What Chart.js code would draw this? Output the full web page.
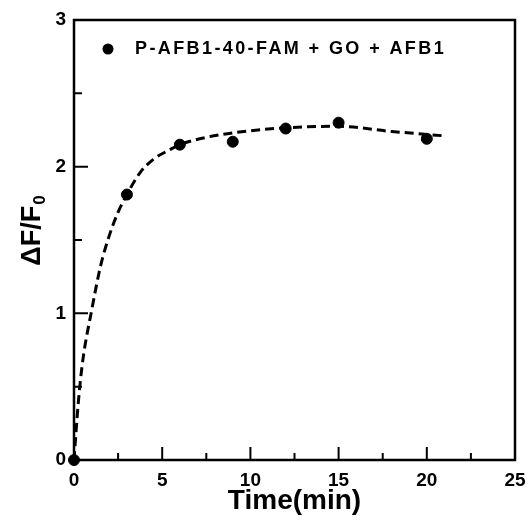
<!DOCTYPE html>
<html>
<head>
<meta charset="utf-8">
<title>Time response</title>
<script src="https://cdn.jsdelivr.net/npm/chart.js@4.4.1/dist/chart.umd.min.js"></script>
<style>
    html, body { margin: 0; padding: 0; background: #fff; }
    #wrap { width: 528px; height: 520px; }
</style>
</head>
<body>
<div id="wrap"><canvas id="timeChart" width="528" height="520"></canvas></div>
<script>
// Measured points (time in min, dF/F0)
const timeMin = [0, 3, 6, 9, 12, 15, 20];
const ratio = [0, 1.81, 2.15, 2.17, 2.26, 2.30, 2.19];

// Fitted curve
const fitTime = [0, 0.25, 0.5, 1, 1.5, 2, 2.5, 3, 3.75, 4.5, 5.5, 6, 7.5, 9, 12, 15, 18, 21];
const fitRatio = [0, 0.40, 0.68, 1.02, 1.32, 1.53, 1.69, 1.81, 1.96, 2.05, 2.12, 2.15, 2.20, 2.23, 2.265, 2.275, 2.24, 2.21];

const seriesLabel = 'P-AFB1-40-FAM + GO + AFB1';
const xTicks = [0, 5, 10, 15, 20, 25];
const yTicks = [0, 1, 2, 3];

const fontFamily = '"Liberation Sans", Arial, sans-serif';

// Box around the plot, inward ticks, legend and y title
const framePlugin = {
    id: 'frame',
    afterDraw(chart) {
        const ctx = chart.ctx;
        const a = chart.chartArea;
        const xs = chart.scales.x;
        const ys = chart.scales.y;
        ctx.save();
        ctx.setLineDash([]);
        ctx.strokeStyle = '#000';
        ctx.lineWidth = 2.5;
        ctx.strokeRect(a.left, a.top, a.right - a.left, a.bottom - a.top);

        ctx.lineWidth = 2;
        ctx.beginPath();
        xTicks.forEach((v, i) => {
            const px = xs.getPixelForValue(v);
            ctx.moveTo(px, a.bottom);
            ctx.lineTo(px, a.bottom - 13);
            if (i < xTicks.length - 1) {
                const mx = xs.getPixelForValue(v + 2.5);
                ctx.moveTo(mx, a.bottom);
                ctx.lineTo(mx, a.bottom - 7);
            }
        });
        yTicks.forEach((v, i) => {
            const py = ys.getPixelForValue(v);
            ctx.moveTo(a.left, py);
            ctx.lineTo(a.left + 14, py);
            if (i < yTicks.length - 1) {
                const my = ys.getPixelForValue(v + 0.5);
                ctx.moveTo(a.left, my);
                ctx.lineTo(a.left + 8, my);
            }
        });
        ctx.stroke();

        // legend inside the plot
        ctx.fillStyle = '#000';
        ctx.beginPath();
        ctx.arc(108, 49, 5.5, 0, Math.PI * 2);
        ctx.fill();
        ctx.font = 'bold 18px ' + fontFamily;
        ctx.letterSpacing = '2.4px';
        ctx.textAlign = 'left';
        ctx.textBaseline = 'middle';
        ctx.fillText(chart.data.datasets[0].label, 135, 49);
        ctx.letterSpacing = '0px';

        // y axis title with subscript
        ctx.translate(30, 231);
        ctx.rotate(-Math.PI / 2);
        ctx.font = 'bold 27px ' + fontFamily;
        const main = '\u0394F/F';
        const mainW = ctx.measureText(main).width;
        ctx.font = 'bold 17px ' + fontFamily;
        const subW = ctx.measureText('0').width;
        const start = -(mainW + subW) / 2;
        ctx.textBaseline = 'alphabetic';
        ctx.font = 'bold 27px ' + fontFamily;
        ctx.fillText(main, start, 10);
        ctx.font = 'bold 17px ' + fontFamily;
        ctx.fillText('0', start + mainW + 1, 15);
        ctx.restore();
    }
};

const ctx = document.getElementById('timeChart').getContext('2d');
const timeChart = new Chart(ctx, {
    type: 'scatter',
    data: {
        datasets: [{
            label: seriesLabel,
            data: timeMin.map((t, i) => ({ x: t, y: ratio[i] })),
            backgroundColor: '#000',
            borderColor: '#000',
            pointRadius: 5.5,
            pointHoverRadius: 5.5,
            clip: false,
            order: 0
        }, {
            label: 'fit',
            type: 'line',
            data: fitTime.map((t, i) => ({ x: t, y: fitRatio[i] })),
            borderColor: '#000',
            borderWidth: 3,
            borderDash: [9, 5],
            pointRadius: 0,
            fill: false,
            cubicInterpolationMode: 'monotone',
            order: 1
        }]
    },
    options: {
        responsive: false,
        animation: false,
        layout: { padding: { left: 0, right: 13, top: 20, bottom: 0 } },
        plugins: {
            legend: { display: false },
            tooltip: { enabled: false }
        },
        scales: {
            x: {
                type: 'linear',
                min: 0,
                max: 25,
                afterBuildTicks: (scale) => { scale.ticks = xTicks.map(v => ({ value: v })); },
                afterFit: (scale) => {
                    scale.height = 60;
                    scale.paddingLeft = 0;
                    scale.paddingRight = 0;
                },
                grid: { display: false, drawTicks: false },
                border: { display: false },
                ticks: {
                    padding: 9,
                    color: '#000',
                    font: { family: fontFamily, size: 19, weight: 'bold' }
                },
                title: {
                    display: true,
                    text: 'Time(min)',
                    color: '#000',
                    font: { family: fontFamily, size: 28, weight: 'bold' },
                    padding: { top: 0, bottom: 2 }
                }
            },
            y: {
                type: 'linear',
                min: 0,
                max: 3,
                afterBuildTicks: (scale) => { scale.ticks = yTicks.map(v => ({ value: v })); },
                afterFit: (scale) => { scale.width = 74; },
                grid: { display: false, drawTicks: false },
                border: { display: false },
                ticks: {
                    padding: 8,
                    color: '#000',
                    font: { family: fontFamily, size: 19, weight: 'bold' }
                }
            }
        }
    },
    plugins: [framePlugin]
});
</script>
</body>
</html>
